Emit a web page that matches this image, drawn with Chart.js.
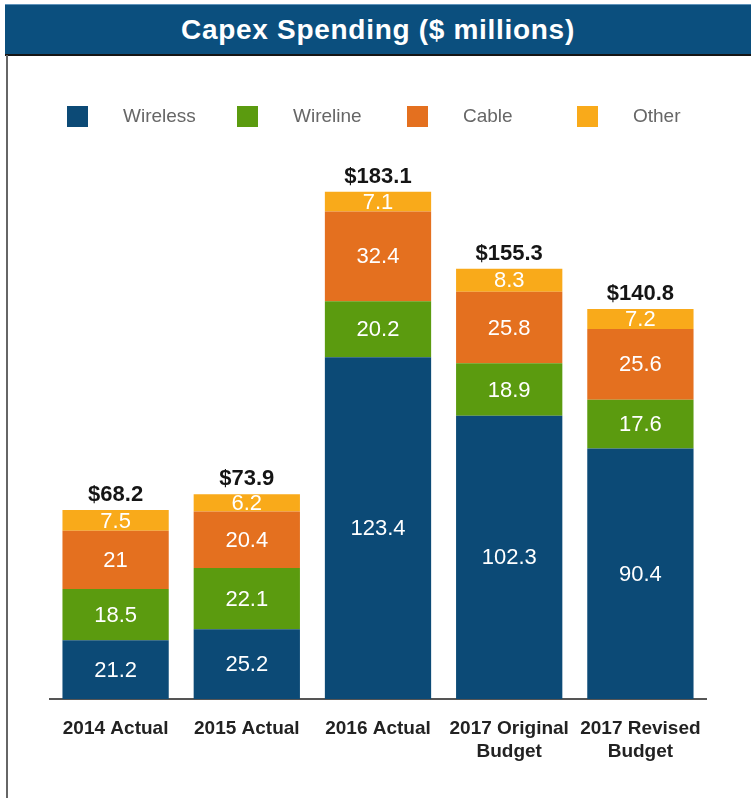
<!DOCTYPE html>
<html>
<head>
<meta charset="utf-8">
<script src="https://cdn.jsdelivr.net/npm/chart.js@4"></script>
<style>
  html, body { margin: 0; padding: 0; background: #fff; }
  #wrap { position: relative; width: 751px; height: 798px; overflow: hidden; }
  #titulo {
    position: absolute; left: 5px; top: 4px; width: 746px; height: 49px;
    background: #0b4f7e; border-top: 1px solid #5f93bb; border-bottom: 2px solid #151515;
    color: #fff; font: bold 28px "Liberation Sans", Arial, sans-serif;
    text-align: center; line-height: 49px; letter-spacing: 0.7px;
  }
  #bordeIzq { position: absolute; left: 6px; top: 55px; width: 2px; height: 743px; background: #666; }
  canvas { position: absolute; left: 0; top: 0; }
</style>
</head>
<body>
<div id="wrap">
  <canvas id="grafico" width="751" height="798"></canvas>
  <div id="titulo">Capex Spending ($ millions)</div>
  <div id="bordeIzq"></div>
</div>
<script>
'use strict';

// ─── Datos ────────────────────────────────────────────────────────────────────
const CATEGORIAS = [
    '2014 Actual',
    '2015 Actual',
    '2016 Actual',
    ['2017 Original', 'Budget'],
    ['2017 Revised', 'Budget'],
];
const WIRELESS = [21.2, 25.2, 123.4, 102.3, 90.4];
const WIRELINE = [18.5, 22.1, 20.2, 18.9, 17.6];
const CABLE    = [21, 20.4, 32.4, 25.8, 25.6];
const OTHER    = [7.5, 6.2, 7.1, 8.3, 7.2];
const TOTALES  = ['$68.2', '$73.9', '$183.1', '$155.3', '$140.8'];

const COLORES = {
    wireless: '#0c4a76',
    wireline: '#5b9b0f',
    cable:    '#e4701f',
    other:    '#f9aa1a',
};

const FUENTE = '"Liberation Sans", Arial, sans-serif';

// ─── Plugin: leyenda + etiquetas ──────────────────────────────────────────────
const pluginEtiquetas = {
    id: 'etiquetas',
    afterDatasetsDraw(chart) {
        const ctx = chart.ctx;
        ctx.save();
        ctx.textAlign = 'center';
        ctx.textBaseline = 'middle';
        ctx.fillStyle = '#ffffff';
        ctx.font = '22px ' + FUENTE;
        chart.data.datasets.forEach(function (ds, i) {
            const meta = chart.getDatasetMeta(i);
            meta.data.forEach(function (bar, j) {
                const yMid = (bar.y + bar.base) / 2;
                ctx.fillText(String(ds.data[j]), bar.x, yMid + 1);
            });
        });

        // totales encima de cada barra
        const ultimo = chart.getDatasetMeta(chart.data.datasets.length - 1);
        ctx.fillStyle = '#151515';
        ctx.font = 'bold 22px ' + FUENTE;
        ctx.textBaseline = 'alphabetic';
        ultimo.data.forEach(function (bar, j) {
            ctx.fillText(TOTALES[j], bar.x, bar.y - 9);
        });

        // leyenda
        ctx.textAlign = 'left';
        ctx.textBaseline = 'middle';
        ctx.font = '19px ' + FUENTE;
        chart.data.datasets.forEach(function (ds, i) {
            const x0 = 67 + i * 170;
            ctx.fillStyle = ds.backgroundColor;
            ctx.fillRect(x0, 106, 21, 21);
            ctx.fillStyle = '#666666';
            ctx.fillText(ds.label, x0 + 56, 117);
        });
        ctx.restore();
    },
};

// ─── Gráfico ──────────────────────────────────────────────────────────────────
const ctx = document.getElementById('grafico').getContext('2d');
new Chart(ctx, {
    type: 'bar',
    data: {
        labels: CATEGORIAS,
        datasets: [
            { label: 'Wireless', data: WIRELESS, backgroundColor: COLORES.wireless },
            { label: 'Wireline', data: WIRELINE, backgroundColor: COLORES.wireline },
            { label: 'Cable',    data: CABLE,    backgroundColor: COLORES.cable },
            { label: 'Other',    data: OTHER,    backgroundColor: COLORES.other },
        ],
    },
    options: {
        responsive: false,
        animation: false,
        layout: { padding: { left: 50, right: 45, top: 145, bottom: 0 } },
        datasets: {
            bar: { barPercentage: 0.81, categoryPercentage: 1.0, borderWidth: 0 },
        },
        plugins: {
            legend:  { display: false },
            title:   { display: false },
            tooltip: { enabled: false },
        },
        scales: {
            x: {
                stacked: true,
                grid: { display: false },
                border: { display: true, color: '#555555', width: 2 },
                ticks: {
                    color: '#222222',
                    padding: 11,
                    font: { family: FUENTE, size: 19, weight: 'bold', lineHeight: 1.17 },
                    maxRotation: 0,
                    autoSkip: false,
                },
                afterFit: function (scale) { scale.height = 99; },
            },
            y: {
                stacked: true,
                display: false,
                min: 0,
                max: 200,
            },
        },
    },
    plugins: [pluginEtiquetas],
});
</script>
</body>
</html>
